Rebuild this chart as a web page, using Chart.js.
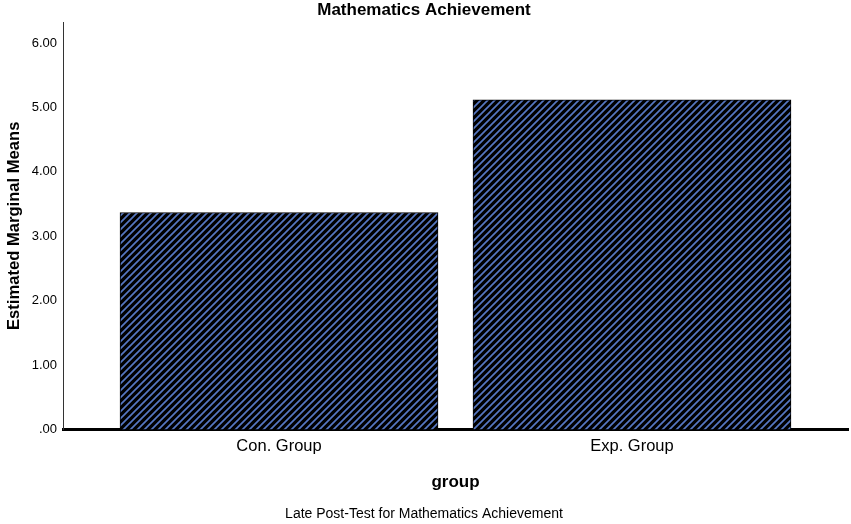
<!DOCTYPE html>
<html>
<head>
<meta charset="utf-8">
<script src="https://cdn.jsdelivr.net/npm/chart.js@4"></script>
<style>
  body { margin: 0; background: #fff; }
  #wrap { width: 851px; height: 524px; position: relative; }
</style>
</head>
<body>
<div id="wrap"><canvas id="chart"></canvas></div>
<script>
const categories = ['Con. Group', 'Exp. Group'];
const meanValues = [3.37, 5.12];
const yTickValues = [0, 1, 2, 3, 4, 5, 6];

const FONT = "Arial, 'Liberation Sans', sans-serif";

// diagonal hatch like the SPSS fill
function makeHatch() {
    const n = 7;
    const c = document.createElement('canvas');
    c.width = n;
    c.height = n;
    const g = c.getContext('2d');
    g.fillStyle = '#000000';
    g.fillRect(0, 0, n, n);
    g.strokeStyle = '#5677c2';
    g.lineWidth = 1.7;
    g.beginPath();
    for (const off of [-n, 0, n]) {
        g.moveTo(-2 + off, n + 2);
        g.lineTo(n + 2 + off, -2);
    }
    g.stroke();
    return g.createPattern(c, 'repeat');
}

const ctx = document.getElementById('chart').getContext('2d');
new Chart(ctx, {
    type: 'bar',
    data: {
        datasets: [{
            data: meanValues.map((v, i) => ({ x: i, y: v })),
            backgroundColor: makeHatch(),
            borderColor: '#000000',
            borderWidth: 1,
            barThickness: 318
        }]
    },
    options: {
        responsive: true,
        maintainAspectRatio: false,
        animation: false,
        layout: { padding: { left: 0, right: 3, top: 0, bottom: 0 } },
        plugins: {
            legend: { display: false },
            tooltip: { enabled: false },
            title: {
                display: true,
                text: 'Mathematics Achievement',
                color: '#000',
                font: { family: FONT, size: 17, weight: 'bold', lineHeight: 1.1 },
                padding: { top: 1, bottom: 2.3 }
            },
            subtitle: {
                display: true,
                position: 'bottom',
                text: 'Late Post-Test for Mathematics Achievement',
                color: '#000',
                font: { family: FONT, size: 14, lineHeight: 1.1 },
                padding: { top: 0, bottom: 2 }
            }
        },
        scales: {
            x: {
                type: 'linear',
                offset: false,
                min: -0.612,
                max: 1.612,
                afterBuildTicks: (s) => { s.ticks = categories.map((c, i) => ({ value: i })); },
                afterFit: (s) => { s.height = 77; },
                grid: { display: false, drawTicks: false },
                border: { display: true, color: '#000', width: 3 },
                ticks: {
                    padding: 7,
                    color: '#000',
                    font: { family: FONT, size: 16.5 },
                    autoSkip: false,
                    maxRotation: 0,
                    callback: (v) => categories[v]
                },
                title: {
                    display: true,
                    text: 'group',
                    color: '#000',
                    font: { family: FONT, size: 17, weight: 'bold' },
                    padding: { top: 0, bottom: 14 }
                }
            },
            y: {
                min: 0,
                max: 6.326,
                afterBuildTicks: (s) => { s.ticks = yTickValues.map(v => ({ value: v })); },
                afterFit: (s) => { s.width = 63; },
                grid: { display: false, drawTicks: false },
                border: { display: true, color: '#333', width: 1 },
                ticks: {
                    padding: 6,
                    color: '#000',
                    font: { family: FONT, size: 13 },
                    callback: (v) => v === 0 ? '.00' : v.toFixed(2)
                },
                title: {
                    display: true,
                    text: 'Estimated Marginal Means',
                    color: '#000',
                    font: { family: FONT, size: 16.6, weight: 'bold' },
                    padding: { top: 4, bottom: 0 }
                }
            }
        }
    }
});
</script>
</body>
</html>
